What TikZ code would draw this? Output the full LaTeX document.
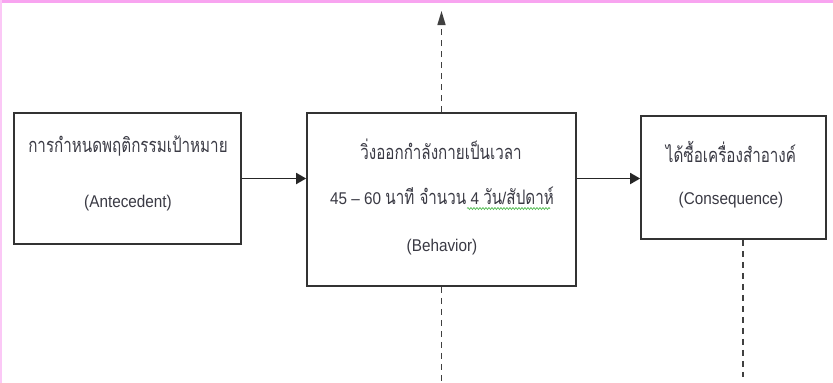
\documentclass[tikz,border=0pt]{standalone}
\usepackage{fontspec}
\setmainfont[FakeStretch=0.9]{Liberation Sans}
\newfontfamily\thaifnt[Script=Thai,FakeStretch=0.76]{Loma}
\newcommand{\thaitxt}{\thaifnt\fontsize{20}{22}\selectfont}
\usetikzlibrary{arrows.meta,decorations.pathmorphing}
\definecolor{pinkedge}{HTML}{F8A4F0}
\definecolor{inkc}{HTML}{3A3A44}
\definecolor{spellgreen}{HTML}{3CB43C}
\tikzset{
  box/.style={draw=black!80, line width=1.7pt, minimum width=#1, inner sep=0pt},
  lbl/.style={inner sep=0pt, text=inkc, font=\fontsize{17}{20}\selectfont},
  conn/.style={draw=black!85, line width=1.8pt, -{Triangle[length=10pt,width=11pt]}},
  dconn/.style={draw=black!75, line width=1.5pt, dash pattern=on 6pt off 5pt},
}
\begin{document}
\begin{tikzpicture}[x=1pt,y=-1pt]
\useasboundingbox (0,0) rectangle (833,383);
\fill[white] (0,0) rectangle (833,383);
\fill[pinkedge] (0,0) rectangle (833,2.5);
\fill[pinkedge!60] (0,0) rectangle (1.5,383);

\node[box=227pt, minimum height=131pt] (A) at (127.5,178.5) {};
\node[box=269pt, minimum height=173pt] (B) at (441.5,199.5) {};
\node[box=185pt, minimum height=123pt] (C) at (733.5,177.5) {};

\node[lbl] (a1) at (128,146) {\thaitxt การกำหนดพฤติกรรมเป้าหมาย};
\node[lbl] (a2) at (128,203) {(Antecedent)};

\node[lbl] (b1) at (441,149) {\thaitxt วิ่งออกกำลังกายเป็นเวลา};
\node[lbl] (b2) at (442,196) {45 – 60 {\thaitxt นาที จำนวน} 4 {\thaitxt วัน}/{\thaitxt สัปดาห์}};
\node[lbl] (b3) at (442,247) {(Behavior)};

\node[lbl] (c1) at (731,152) {\thaitxt ได้ซื้อเครื่องสำอางค์};
\node[lbl] (c2) at (731,200) {(Consequence)};

\coordinate (w1) at (467,208.5);
\coordinate (w2) at (550,208.5);
\draw[spellgreen, line width=0.6pt, decorate, decoration={snake, segment length=3pt, amplitude=1pt}] (w1) -- (w2);

\draw[conn] (A.east) -- (B.west |- A.east);
\draw[conn] (B.east |- A.east) -- (C.west |- A.east);

\coordinate (up) at (441.5,11);
\coordinate (down) at (441.5,383);
\coordinate (cdown) at (743,377);
\draw[dconn, -{Triangle[length=14pt,width=8pt]}] (B.north) -- (up);
\draw[dconn] (B.south) -- (down);
\draw[dconn] (cdown |- C.south) -- (cdown);
\end{tikzpicture}
\end{document}
